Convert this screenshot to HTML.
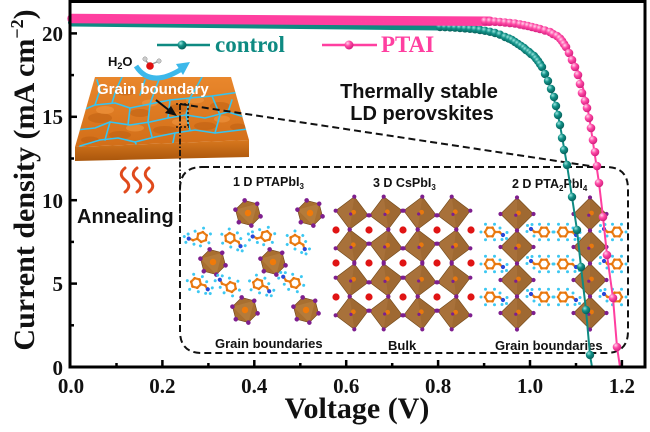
<!DOCTYPE html>
<html><head><meta charset="utf-8"><style>html,body{margin:0;padding:0;background:#fff}svg{display:block}</style></head>
<body>
<svg xmlns="http://www.w3.org/2000/svg" xmlns:xlink="http://www.w3.org/1999/xlink" width="650" height="432" viewBox="0 0 650 432">
<defs>
 <radialGradient id="tg" cx="35%" cy="30%" r="70%"><stop offset="0" stop-color="#9be6df"/><stop offset=".45" stop-color="#129188"/><stop offset="1" stop-color="#07615b"/></radialGradient>
 <radialGradient id="pg" cx="35%" cy="30%" r="70%"><stop offset="0" stop-color="#ffd6ec"/><stop offset=".45" stop-color="#ff4aa6"/><stop offset="1" stop-color="#d41f7e"/></radialGradient>
 <linearGradient id="topg" x1="0" y1="0" x2="0" y2="1"><stop offset="0" stop-color="#e9872c"/><stop offset="1" stop-color="#d26e18"/></linearGradient>
 <linearGradient id="frontg" x1="0" y1="0" x2="0" y2="1"><stop offset="0" stop-color="#d8781e"/><stop offset="1" stop-color="#a9560c"/></linearGradient>
 <clipPath id="tc"><polygon points="95,77 231,77 249,140 75,147"/></clipPath>
 <g id="h1">
  <polygon points="13,0 6.5,11.3 -6.5,11.3 -13,0 -6.5,-11.3 6.5,-11.3" fill="#a86f30" stroke="#6e4418" stroke-width=".6"/>
  <polygon points="6.5,-11.3 -13,0 6.5,11.3" fill="#c28a4a" opacity=".45"/>
  <circle r="3.2" fill="#f07a0a"/>
  <g fill="#7e1f8e"><circle cx="13" cy="0" r="2.3"/><circle cx="6.5" cy="11.3" r="2.3"/><circle cx="-6.5" cy="11.3" r="2.3"/><circle cx="-13" cy="0" r="2.3"/><circle cx="-6.5" cy="-11.3" r="2.3"/><circle cx="6.5" cy="-11.3" r="2.3"/></g>
 </g>
 <g id="d3">
  <polygon points="0,-16.5 16.5,0 0,16.5 -16.5,0" fill="#a8713a" stroke="#6e4517" stroke-width=".6"/>
  <polygon points="0,-16.5 16.5,0 0,16.5" fill="#8a5520" opacity=".28"/>
  <circle cx="1.5" cy="-1" r="2.4" fill="#e8780e"/>
  <circle cx="-1.2" cy="1.2" r="1.6" fill="#7e1f8e"/>
  <g fill="#7e1f8e"><circle cx="0" cy="-16.5" r="2.1"/><circle cx="16.5" cy="0" r="2.1"/><circle cx="0" cy="16.5" r="2.1"/><circle cx="-16.5" cy="0" r="2.1"/></g>
 </g>
 <g id="m">
  <g stroke="#ea7f18" stroke-width="2.2" fill="none" stroke-linejoin="round">
   <polygon points="5,0 2.5,4.3 -2.5,4.3 -5,0 -2.5,-4.3 2.5,-4.3"/>
   <polyline points="5,0 9.5,0 12.5,3"/>
  </g>
  <g fill="#e8740a"><circle cx="5" cy="0" r="1.3"/><circle cx="2.5" cy="4.3" r="1.3"/><circle cx="-2.5" cy="4.3" r="1.3"/><circle cx="-5" cy="0" r="1.3"/><circle cx="-2.5" cy="-4.3" r="1.3"/><circle cx="2.5" cy="-4.3" r="1.3"/><circle cx="9.5" cy="0" r="1.3"/></g>
  <circle cx="13" cy="3" r="2.1" fill="#2b47d8"/>
  <g fill="#3cc8f2"><circle cx="-9" cy="0" r="1.5"/><circle cx="-4.5" cy="-7.8" r="1.5"/><circle cx="-4.5" cy="7.8" r="1.5"/><circle cx="4.5" cy="-7.8" r="1.5"/><circle cx="4.5" cy="7.8" r="1.5"/><circle cx="10" cy="-4" r="1.5"/><circle cx="17" cy="0.5" r="1.5"/><circle cx="16.5" cy="6.5" r="1.5"/><circle cx="12" cy="7.5" r="1.5"/></g>
 </g>
</defs>

<rect width="650" height="432" fill="#fff"/>

<!-- Inset box -->
<path d="M202,167 H606 Q628,167 628,189 V331 Q628,353 606,353 H202 Q180,353 180,331 V189 Q180,167 202,167 Z" fill="none" stroke="#111" stroke-width="2" stroke-dasharray="7 4"/>

<!-- inset labels -->
<g font-family="Liberation Sans, Arial, sans-serif" font-weight="bold" fill="#111">
 <text x="233" y="186" font-size="12.5">1 D PTAPbI<tspan font-size="8" dy="3">3</tspan></text>
 <text x="373" y="187" font-size="12.5">3 D CsPbI<tspan font-size="8" dy="3">3</tspan></text>
 <text x="512" y="188" font-size="12.5">2 D PTA<tspan font-size="8" dy="3">2</tspan><tspan dy="-3">PbI</tspan><tspan font-size="8" dy="3">4</tspan></text>
 <text x="215" y="348" font-size="13">Grain boundaries</text>
 <text x="388" y="350" font-size="13">Bulk</text>
 <text x="495" y="350" font-size="13">Grain boundaries</text>
</g>

<!-- 1D structure -->
<use xlink:href="#h1" transform="translate(248,213) rotate(15)"/>
<use xlink:href="#h1" transform="translate(310,213) rotate(15)"/>
<use xlink:href="#h1" transform="translate(213,262) rotate(15)"/>
<use xlink:href="#h1" transform="translate(273,262) rotate(15)"/>
<use xlink:href="#h1" transform="translate(245,310) rotate(15)"/>
<use xlink:href="#h1" transform="translate(306,310) rotate(15)"/>
<use xlink:href="#m" transform="translate(202,237) rotate(160)"/>
<use xlink:href="#m" transform="translate(230,238) rotate(25)"/>
<use xlink:href="#m" transform="translate(266,236) rotate(165)"/>
<use xlink:href="#m" transform="translate(295,240) rotate(30)"/>
<use xlink:href="#m" transform="translate(196,283) rotate(15)"/>
<use xlink:href="#m" transform="translate(231,287) rotate(200)"/>
<use xlink:href="#m" transform="translate(258,284) rotate(20)"/>
<use xlink:href="#m" transform="translate(295,283) rotate(195)"/>

<!-- 3D structure -->
<g>
 <use xlink:href="#d3" transform="translate(352,213) rotate(8)"/>
 <use xlink:href="#d3" transform="translate(386,213) rotate(-8)"/>
 <use xlink:href="#d3" transform="translate(420,213) rotate(8)"/>
 <use xlink:href="#d3" transform="translate(454,213) rotate(-8)"/>
 <use xlink:href="#d3" transform="translate(352,246) rotate(-8)"/>
 <use xlink:href="#d3" transform="translate(386,246) rotate(8)"/>
 <use xlink:href="#d3" transform="translate(420,246) rotate(-8)"/>
 <use xlink:href="#d3" transform="translate(454,246) rotate(8)"/>
 <use xlink:href="#d3" transform="translate(352,280) rotate(8)"/>
 <use xlink:href="#d3" transform="translate(386,280) rotate(-8)"/>
 <use xlink:href="#d3" transform="translate(420,280) rotate(8)"/>
 <use xlink:href="#d3" transform="translate(454,280) rotate(-8)"/>
 <use xlink:href="#d3" transform="translate(352,313) rotate(-8)"/>
 <use xlink:href="#d3" transform="translate(386,313) rotate(8)"/>
 <use xlink:href="#d3" transform="translate(420,313) rotate(-8)"/>
 <use xlink:href="#d3" transform="translate(454,313) rotate(8)"/>
 <g fill="#e01414">
  <circle cx="336" cy="230" r="3.6"/><circle cx="369" cy="230" r="3.6"/><circle cx="403" cy="230" r="3.6"/><circle cx="437" cy="230" r="3.6"/><circle cx="471" cy="230" r="3.6"/>
  <circle cx="336" cy="263" r="3.6"/><circle cx="369" cy="263" r="3.6"/><circle cx="403" cy="263" r="3.6"/><circle cx="437" cy="263" r="3.6"/><circle cx="471" cy="263" r="3.6"/>
  <circle cx="336" cy="297" r="3.6"/><circle cx="369" cy="297" r="3.6"/><circle cx="403" cy="297" r="3.6"/><circle cx="437" cy="297" r="3.6"/><circle cx="471" cy="297" r="3.6"/>
 </g>
</g>

<!-- 2D structure -->
<g>
 <use xlink:href="#d3" transform="translate(517,214)"/>
 <use xlink:href="#d3" transform="translate(517,247)"/>
 <use xlink:href="#d3" transform="translate(517,280)"/>
 <use xlink:href="#d3" transform="translate(517,313)"/>
 <use xlink:href="#d3" transform="translate(590,214)"/>
 <use xlink:href="#d3" transform="translate(590,247)"/>
 <use xlink:href="#d3" transform="translate(590,280)"/>
 <use xlink:href="#d3" transform="translate(590,313)"/>
 <use xlink:href="#m" transform="translate(490,232)"/>
 <use xlink:href="#m" transform="translate(490,264)"/>
 <use xlink:href="#m" transform="translate(490,297)"/>
 <use xlink:href="#m" transform="translate(544,232) rotate(180)"/>
 <use xlink:href="#m" transform="translate(544,264) rotate(180)"/>
 <use xlink:href="#m" transform="translate(544,297) rotate(180)"/>
 <use xlink:href="#m" transform="translate(563,232)"/>
 <use xlink:href="#m" transform="translate(563,264)"/>
 <use xlink:href="#m" transform="translate(563,297)"/>
 <use xlink:href="#m" transform="translate(617,232) rotate(180)"/>
 <use xlink:href="#m" transform="translate(617,264) rotate(180)"/>
 <use xlink:href="#m" transform="translate(617,297) rotate(180)"/>
</g>

<!-- Grain slab -->
<polygon points="75,147 249,140 249,157 75,161" fill="url(#frontg)"/>
<polygon points="95,77 231,77 249,140 75,147" fill="url(#topg)"/>
<g clip-path="url(#tc)">
 <g fill="#b85c10" opacity=".45">
  <ellipse cx="100" cy="118" rx="12" ry="5"/><ellipse cx="140" cy="113" rx="10" ry="4"/><ellipse cx="180" cy="108" rx="11" ry="4"/>
  <ellipse cx="220" cy="106" rx="10" ry="4"/><ellipse cx="120" cy="135" rx="11" ry="4"/><ellipse cx="165" cy="130" rx="12" ry="4"/>
  <ellipse cx="205" cy="126" rx="11" ry="4"/><ellipse cx="125" cy="92" rx="9" ry="3.5"/><ellipse cx="175" cy="90" rx="10" ry="3.5"/>
  <ellipse cx="90" cy="140" rx="9" ry="3.5"/><ellipse cx="238" cy="127" rx="8" ry="3.5"/>
 </g>
 <g fill="#f39a44" opacity=".55">
  <ellipse cx="105" cy="110" rx="9" ry="4"/><ellipse cx="150" cy="103" rx="8" ry="3.5"/><ellipse cx="195" cy="100" rx="9" ry="3.5"/>
  <ellipse cx="135" cy="128" rx="9" ry="3.5"/><ellipse cx="180" cy="122" rx="8" ry="3.5"/><ellipse cx="222" cy="119" rx="8" ry="3.5"/>
 </g>
 <g fill="none" stroke="#35c4f0" stroke-width="1.6" stroke-linejoin="round" stroke-linecap="round">
  <polyline points="78,112 95,105 115,103 130,108 150,104 170,100 190,98 212,96 240,92"/>
  <polyline points="76,130 95,128 110,122 130,125 150,122 168,118 186,115 205,118 228,112 248,118"/>
  <polyline points="80,146 100,140 118,138 135,142 155,137 175,133 195,130 215,133 248,129"/>
  <polyline points="122,77 116,90 112,103"/>
  <polyline points="160,77 155,90 150,104 148,122 152,137"/>
  <polyline points="202,77 196,88 190,98 186,115 190,130"/>
  <polyline points="130,108 128,125"/>
  <polyline points="110,122 105,140"/>
  <polyline points="170,100 168,118"/>
  <polyline points="212,96 220,115 215,133"/>
  <polyline points="240,92 236,80"/>
  <polyline points="140,95 145,80"/>
  <polyline points="175,133 172,147"/>
  <polyline points="95,105 100,90 97,80"/>
  <polyline points="135,142 138,148"/>
  <polyline points="228,112 232,100"/>
 </g>
</g>
<text x="97" y="94" font-family="Liberation Sans, Arial, sans-serif" font-weight="bold" font-size="15" fill="#fff">Grain boundary</text>

<!-- H2O and arrows -->
<text x="108" y="66" font-family="Liberation Sans, Arial, sans-serif" font-weight="bold" font-size="13" fill="#111">H<tspan font-size="9" dy="3">2</tspan><tspan dy="-3">O</tspan></text>
<line x1="145" y1="60" x2="150" y2="65" stroke="#999" stroke-width="1.5"/>
<line x1="159" y1="61" x2="150" y2="65" stroke="#999" stroke-width="1.5"/>
<circle cx="145" cy="59" r="2.2" fill="#ccc" stroke="#888" stroke-width=".5"/>
<circle cx="159" cy="61" r="2.2" fill="#ccc" stroke="#888" stroke-width=".5"/>
<circle cx="150" cy="66" r="3.8" fill="#e01010"/>
<path d="M136,66 Q150,88 180,70" fill="none" stroke="#3cb8ea" stroke-width="5"/>
<polygon points="190,62 176,64 183,75" fill="#3cb8ea"/>
<line x1="156" y1="100" x2="170" y2="111" stroke="#111" stroke-width="2"/>
<polygon points="177,116 165,113 171,106" fill="#111"/>

<!-- dashed connectors -->
<line x1="180" y1="104" x2="590" y2="166" stroke="#111" stroke-width="2" stroke-dasharray="7 4"/>
<line x1="180" y1="104" x2="180" y2="215" stroke="#111" stroke-width="1.8" stroke-dasharray="6 2 1.5 2"/>
<line x1="188" y1="104" x2="188" y2="127" stroke="#111" stroke-width="1.5" stroke-dasharray="2 2"/>
<line x1="176" y1="127" x2="189" y2="127" stroke="#111" stroke-width="1.5" stroke-dasharray="2 2"/>
<line x1="176" y1="104" x2="189" y2="104" stroke="#111" stroke-width="1.5" stroke-dasharray="2 2"/>

<!-- heat waves -->
<g fill="none" stroke="#e04a1c" stroke-width="3" stroke-linecap="round">
 <path d="M125,168 c-5,4 -5,8 0,12 c5,4 5,8 0,12"/>
 <path d="M137,168 c-5,4 -5,8 0,12 c5,4 5,8 0,12"/>
 <path d="M149,168 c-5,4 -5,8 0,12 c5,4 5,8 0,12"/>
</g>
<text x="77" y="223" font-family="Liberation Sans, Arial, sans-serif" font-weight="bold" font-size="20" fill="#111">Annealing</text>

<g font-family="Liberation Sans, Arial, sans-serif" font-weight="bold" font-size="20" fill="#111" text-anchor="middle">
 <text x="419" y="98">Thermally stable</text>
 <text x="422" y="120">LD perovskites</text>
</g>

<!-- Curves: control -->
<path d="M72,22.5 L440,26.5" fill="none" stroke="#0f8a82" stroke-width="8" stroke-linecap="round"/>
<path d="M71,22 L430,26 C465,28 500,34 520,45 C540,54 552,84 560,125 L567,165 L572,197 L577,230 L581,267 L586,310 L590,355 L592,367" fill="none" stroke="#0f8a82" stroke-width="2"/>
<g fill="url(#tg)">
 <circle cx="440" cy="27" r="4.2"/><circle cx="445" cy="27.2" r="4.2"/><circle cx="450" cy="27.4" r="4.2"/><circle cx="455" cy="27.7" r="4.2"/>
 <circle cx="460" cy="28" r="4.2"/><circle cx="465" cy="28.4" r="4.2"/><circle cx="470" cy="28.8" r="4.2"/><circle cx="475" cy="29.3" r="4.2"/>
 <circle cx="480" cy="30" r="4.2"/><circle cx="485" cy="30.8" r="4.2"/><circle cx="490" cy="31.8" r="4.2"/><circle cx="495" cy="33" r="4.2"/>
 <circle cx="500" cy="34.7" r="4.2"/><circle cx="505" cy="37" r="4.2"/><circle cx="509" cy="38.6" r="4.2"/><circle cx="512" cy="40" r="4.2"/>
 <circle cx="515" cy="42" r="4.2"/><circle cx="518" cy="44" r="4.2"/><circle cx="521" cy="46" r="4.2"/><circle cx="524" cy="48" r="4.2"/>
 <circle cx="526" cy="50" r="4.2"/><circle cx="529" cy="52" r="4.2"/><circle cx="531" cy="54" r="4.2"/><circle cx="534" cy="56" r="4.2"/>
 <circle cx="536" cy="58.5" r="4.2"/><circle cx="538" cy="61" r="4.2"/><circle cx="540" cy="64" r="4.2"/><circle cx="542" cy="67" r="4.2"/>
 <circle cx="545" cy="74" r="4.2"/><circle cx="548" cy="81" r="4.2"/><circle cx="551" cy="89" r="4.2"/><circle cx="554" cy="97" r="4.2"/>
 <circle cx="556" cy="106" r="4.2"/><circle cx="558" cy="115" r="4.2"/><circle cx="560" cy="125" r="4.2"/><circle cx="562" cy="138" r="4.2"/>
 <circle cx="564" cy="150" r="4.2"/><circle cx="567" cy="165" r="4.2"/><circle cx="572" cy="197" r="4.2"/><circle cx="577" cy="230" r="4.2"/>
 <circle cx="581" cy="267" r="4.2"/><circle cx="586" cy="310" r="4.2"/><circle cx="590" cy="355" r="4.2"/>
</g>

<!-- Curves: PTAI -->
<path d="M72,18.5 L490,21.3" fill="none" stroke="#ff3fa0" stroke-width="9.5" stroke-linecap="round"/>
<path d="M71,18.5 L490,21.3" fill="none" stroke="#ffa6d2" stroke-width="1.6" stroke-linecap="round" stroke-dasharray="0 4.4" opacity=".6"/>
<path d="M71,18.5 L480,21 C510,22 540,27 555,34 C572,45 583,80 590,122 L599,183 L603,217 L607,255 L613,298 L617,347 L620,367" fill="none" stroke="#ff3fa0" stroke-width="2"/>
<g fill="url(#pg)">
 <circle cx="485" cy="21.2" r="4.3"/><circle cx="490" cy="21.4" r="4.3"/><circle cx="495" cy="21.7" r="4.3"/>
 <circle cx="500" cy="22" r="4.3"/><circle cx="505" cy="22.5" r="4.3"/><circle cx="510" cy="23" r="4.3"/><circle cx="515" cy="23.5" r="4.3"/>
 <circle cx="520" cy="24.4" r="4.3"/><circle cx="524" cy="25.2" r="4.3"/><circle cx="528" cy="26" r="4.3"/><circle cx="532" cy="27" r="4.3"/>
 <circle cx="536" cy="28" r="4.3"/><circle cx="540" cy="29" r="4.3"/><circle cx="545" cy="30.5" r="4.3"/>
 <circle cx="550" cy="32" r="4.3"/><circle cx="553" cy="34" r="4.3"/><circle cx="557" cy="36" r="4.3"/><circle cx="560" cy="38.5" r="4.3"/><circle cx="562" cy="41" r="4.3"/>
 <circle cx="564" cy="44" r="4.3"/><circle cx="566" cy="47" r="4.3"/>
 <circle cx="569" cy="53" r="4.3"/><circle cx="572" cy="60" r="4.3"/><circle cx="575" cy="67" r="4.3"/><circle cx="578" cy="75" r="4.3"/>
 <circle cx="580" cy="84" r="4.3"/><circle cx="582" cy="93" r="4.3"/><circle cx="585" cy="101" r="4.3"/><circle cx="587" cy="108" r="4.3"/>
 <circle cx="589" cy="118" r="4.3"/><circle cx="591" cy="128" r="4.3"/><circle cx="593" cy="140" r="4.3"/><circle cx="595" cy="152" r="4.3"/>
 <circle cx="597" cy="166" r="4.3"/><circle cx="599" cy="183" r="4.3"/><circle cx="603" cy="217" r="4.3"/><circle cx="607" cy="255" r="4.3"/>
 <circle cx="613" cy="298" r="4.3"/><circle cx="617" cy="347" r="4.3"/>
</g>

<!-- Legend -->
<line x1="157" y1="45" x2="210" y2="45" stroke="#0f8a82" stroke-width="2.5"/>
<circle cx="182" cy="45" r="4.5" fill="url(#tg)"/>
<text x="215" y="52" font-family="Liberation Serif, Times New Roman, serif" font-weight="bold" font-size="23" fill="#0e8a82">control</text>
<line x1="322" y1="45" x2="377" y2="45" stroke="#ff3fa0" stroke-width="2.5"/>
<circle cx="349" cy="45" r="4.5" fill="url(#pg)"/>
<text x="381" y="52" font-family="Liberation Serif, Times New Roman, serif" font-weight="bold" font-size="23" fill="#ff3fa0">PTAI</text>

<!-- Axes frame -->
<rect x="70" y="1.5" width="575" height="365.5" fill="none" stroke="#000" stroke-width="3"/>
<g stroke="#000" stroke-width="2.5">
 <line x1="70" y1="325.3" x2="74" y2="325.3"/><line x1="70" y1="283.6" x2="77" y2="283.6"/>
 <line x1="70" y1="241.9" x2="74" y2="241.9"/><line x1="70" y1="200.2" x2="77" y2="200.2"/>
 <line x1="70" y1="158.5" x2="74" y2="158.5"/><line x1="70" y1="116.8" x2="77" y2="116.8"/>
 <line x1="70" y1="75.1" x2="74" y2="75.1"/><line x1="70" y1="33.4" x2="77" y2="33.4"/>
 <line x1="116.5" y1="367" x2="116.5" y2="363"/><line x1="162.4" y1="367" x2="162.4" y2="360"/>
 <line x1="208.4" y1="367" x2="208.4" y2="363"/><line x1="254.3" y1="367" x2="254.3" y2="360"/>
 <line x1="300.3" y1="367" x2="300.3" y2="363"/><line x1="346.2" y1="367" x2="346.2" y2="360"/>
 <line x1="392.2" y1="367" x2="392.2" y2="363"/><line x1="438.1" y1="367" x2="438.1" y2="360"/>
 <line x1="484.1" y1="367" x2="484.1" y2="363"/><line x1="530" y1="367" x2="530" y2="360"/>
 <line x1="576" y1="367" x2="576" y2="363"/><line x1="621.9" y1="367" x2="621.9" y2="360"/>
</g>

<!-- Tick labels -->
<g font-family="Liberation Serif, Times New Roman, serif" font-weight="bold" font-size="21" fill="#111">
 <g text-anchor="end">
  <text x="63" y="41">20</text><text x="63" y="124">15</text><text x="63" y="208">10</text><text x="63" y="291">5</text><text x="63" y="375">0</text>
 </g>
 <g text-anchor="middle">
  <text x="71" y="393">0.0</text><text x="162.4" y="393">0.2</text><text x="254.3" y="393">0.4</text><text x="346.2" y="393">0.6</text>
  <text x="438.1" y="393">0.8</text><text x="530" y="393">1.0</text><text x="621.9" y="393">1.2</text>
 </g>
</g>

<!-- Axis titles -->
<text x="357" y="418" text-anchor="middle" font-family="Liberation Serif, Times New Roman, serif" font-weight="bold" font-size="30" fill="#111">Voltage (V)</text>
<text transform="translate(34,180) rotate(-90)" text-anchor="middle" font-family="Liberation Serif, Times New Roman, serif" font-weight="bold" font-size="30" fill="#111">Current density (mA cm<tspan font-size="18" dy="-11">−2</tspan><tspan dy="11">)</tspan></text>
</svg>
</body></html>
